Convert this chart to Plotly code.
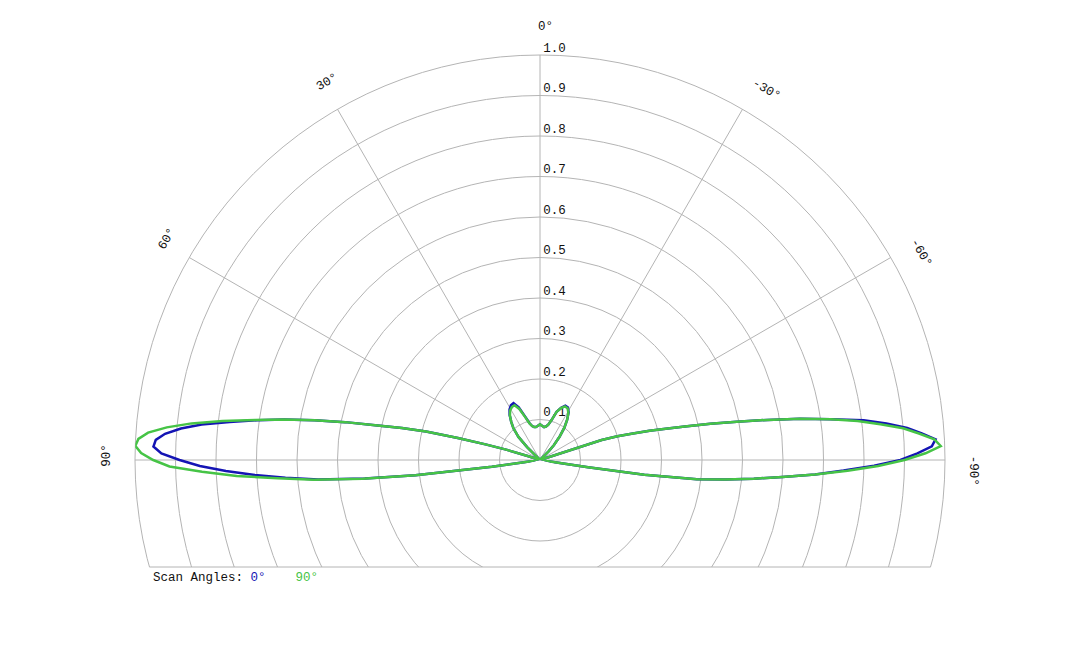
"""Scan-angle radiation pattern, half-polar view cut flat below the horizon."""
import math

import plotly.graph_objects as go

# ---- data (angles in degrees, 0 = up, positive = left) ----
THETA = [
    -100, -99, -98.5, -98, -97, -96, -95, -94, -93, -92, -91, -90, -89, -88,
    -87, -86, -85, -84, -83, -82, -81, -80, -79, -78, -77, -76, -75, -74,
    -73, -72, -71, -60, -46, -45, -43, -40, -37, -34, -31, -28, -25, -22,
    -19, -16, -13, -10, -7, -4, 0, 4, 7, 10, 13, 16, 19, 22, 25, 28, 31,
    34, 37, 40, 43, 45, 46, 60, 71, 72, 73, 74, 75, 76, 77, 78, 79, 80, 81,
    82, 83, 84, 85, 86, 87, 88, 89, 90, 91, 92, 93, 94, 95, 96, 97, 98,
    98.5, 99, 100,
]

R_SCAN_0 = [
    0, 0, 0.12, 0.26, 0.39, 0.46, 0.53, 0.60, 0.68, 0.75, 0.825, 0.89,
    0.932, 0.968, 0.978, 0.945, 0.91, 0.86, 0.805, 0.725, 0.65, 0.57, 0.495,
    0.43, 0.367, 0.32, 0.28, 0.235, 0.20, 0.16, 0, 0, 0, 0.03, 0.05, 0.075,
    0.10, 0.12, 0.137, 0.147, 0.148, 0.139, 0.126, 0.102, 0.089, 0.084,
    0.082, 0.084, 0.088, 0.084, 0.082, 0.083, 0.086, 0.095, 0.114, 0.140,
    0.155, 0.153, 0.146, 0.134, 0.118, 0.102, 0.078, 0.045, 0, 0, 0, 0.03,
    0.09, 0.14, 0.21, 0.29, 0.35, 0.41, 0.49, 0.565, 0.64, 0.705, 0.772,
    0.84, 0.89, 0.928, 0.95, 0.955, 0.935, 0.89, 0.84, 0.776, 0.705, 0.63,
    0.55, 0.435, 0.31, 0.12, 0, 0, 0,
]

R_SCAN_90 = [
    0, 0, 0.12, 0.26, 0.39, 0.46, 0.53, 0.60, 0.68, 0.76, 0.835, 0.90,
    0.952, 0.99, 0.975, 0.938, 0.90, 0.845, 0.79, 0.725, 0.65, 0.57, 0.495,
    0.43, 0.367, 0.32, 0.28, 0.235, 0.20, 0.16, 0, 0, 0, 0.03, 0.05, 0.075,
    0.10, 0.12, 0.136, 0.145, 0.146, 0.138, 0.126, 0.102, 0.089, 0.084,
    0.082, 0.084, 0.088, 0.084, 0.082, 0.083, 0.086, 0.094, 0.112, 0.136,
    0.149, 0.148, 0.143, 0.133, 0.118, 0.102, 0.078, 0.045, 0, 0, 0, 0.03,
    0.09, 0.14, 0.21, 0.29, 0.35, 0.41, 0.49, 0.565, 0.64, 0.71, 0.79,
    0.865, 0.925, 0.97, 0.993, 1.0, 0.985, 0.955, 0.915, 0.835, 0.75, 0.65,
    0.56, 0.44, 0.31, 0.12, 0, 0, 0,
]

SCAN_NAMES = ["0°", "90°"]
SCAN_COLORS = ["#1414b4", "#46c446"]

ANGLE_TICKS = [90, 60, 30, 0, -30, -60, -90]
ANGLE_TICK_TEXT = ["90°", "60°", "30°", "0°", "-30°", "-60°", "-90°"]
RADIAL_TICKS = [0.1, 0.2, 0.3, 0.4, 0.5, 0.6, 0.7, 0.8, 0.9, 1.0]
RADIAL_TICK_TEXT = ["0.1", "0.2", "0.3", "0.4", "0.5", "0.6", "0.7", "0.8", "0.9", "1.0"]

# ---- look / geometry (figure pixels, page body adds an 8px margin) ----
FONT = "Liberation Mono, Courier New, monospace"
FONT_SIZE = 12.5
GRID = "#b4b4b4"
TEXT = "#111111"
W, H = 1080, 648
CX, CY, R = 532, 452, 405   # polar centre and radius
CUT = 0.2642                # view is cut flat this many radii below the centre
PAD = 0.012                 # overlay slack so the outer circle is not clipped
LABEL_DX = 0.008            # radial labels sit just right of the 0° spoke

cut_deg = math.degrees(math.asin(CUT))


def px_x(px: float) -> float:
    return px / W


def px_y(py: float) -> float:
    return 1 - py / H


POLAR_X = [px_x(CX - R), px_x(CX + R)]
POLAR_Y = [px_y(CY + CUT * R), px_y(CY - R)]
OVER_X = [px_x(CX - R * (1 + PAD)), px_x(CX + R * (1 + PAD))]
OVER_Y = [px_y(CY + CUT * R), px_y(CY - R * (1 + PAD))]


def main() -> None:
    fig = go.Figure()

    # hidden cartesian overlay on the same scale as the polar radius:
    # carries the radial tick labels and the flat-cut grid circles
    fig.add_trace(
        go.Scatter(
            x=[LABEL_DX] * len(RADIAL_TICKS),
            y=RADIAL_TICKS,
            text=RADIAL_TICK_TEXT,
            mode="text",
            textposition="top right",
            textfont={"family": FONT, "size": FONT_SIZE, "color": TEXT},
            cliponaxis=False,
            hoverinfo="skip",
            showlegend=False,
        )
    )

    for name, r, color in zip(SCAN_NAMES, (R_SCAN_0, R_SCAN_90), SCAN_COLORS):
        fig.add_trace(
            go.Scatterpolar(
                theta=THETA,
                r=r,
                mode="lines",
                name=name,
                line={"color": color, "width": 2.5},
                showlegend=False,
            )
        )

    shapes = []
    for rv in RADIAL_TICKS:
        shapes.append(
            dict(type="circle", xref="x", yref="y", x0=-rv, x1=rv, y0=-rv, y1=rv,
                 line={"color": GRID, "width": 1}, layer="below")
        )
    half = math.cos(math.asin(CUT)) * R
    shapes.append(
        dict(type="line", xref="paper", yref="paper",
             x0=px_x(CX - half), x1=px_x(CX + half),
             y0=POLAR_Y[0], y1=POLAR_Y[0],
             line={"color": GRID, "width": 1}, layer="below")
    )

    annotations = []
    r_lab = 1.07
    for t, txt in zip(ANGLE_TICKS, ANGLE_TICK_TEXT):
        a = math.radians(t)
        shift = 11 if t < 0 else 5   # nudge along the reading direction
        px = CX - r_lab * R * math.sin(a) + shift * math.cos(a)
        py = CY - r_lab * R * math.cos(a) - shift * math.sin(a)
        annotations.append(
            dict(
                x=px_x(px), y=px_y(py), xref="paper", yref="paper",
                text=txt, textangle=-t, showarrow=False,
                xanchor="center", yanchor="middle",
                font={"family": FONT, "size": FONT_SIZE, "color": TEXT},
            )
        )
    legend_txt = (
        "Scan Angles:\u00a0"
        + f"<span style='color:{SCAN_COLORS[0]}'>{SCAN_NAMES[0]}</span>\u00a0\u00a0\u00a0\u00a0"
        + f"<span style='color:{SCAN_COLORS[1]}'>{SCAN_NAMES[1]}</span>"
    )
    annotations.append(
        dict(x=px_x(143), y=px_y(570), xref="paper", yref="paper", text=legend_txt,
             showarrow=False, xanchor="left", yanchor="middle",
             font={"family": FONT, "size": FONT_SIZE, "color": TEXT})
    )

    fig.update_layout(
        width=W,
        height=H,
        margin={"l": 0, "r": 0, "t": 0, "b": 0},
        paper_bgcolor="white",
        plot_bgcolor="white",
        showlegend=False,
        xaxis={"domain": OVER_X, "range": [-(1 + PAD), 1 + PAD],
               "visible": False, "fixedrange": True},
        yaxis={"domain": OVER_Y, "range": [-CUT, 1 + PAD],
               "visible": False, "fixedrange": True},
        polar={
            "domain": {"x": POLAR_X, "y": POLAR_Y},
            "sector": [-cut_deg, 180 + cut_deg],
            "bgcolor": "rgba(0,0,0,0)",
            "angularaxis": {
                "rotation": 90,
                "direction": "counterclockwise",
                "tickmode": "array",
                "tickvals": ANGLE_TICKS,
                "showticklabels": False,
                "ticks": "",
                "showline": False,
                "showgrid": True,
                "gridcolor": GRID,
                "gridwidth": 1,
            },
            "radialaxis": {
                "range": [0, 1],
                "showgrid": False,
                "showline": False,
                "showticklabels": False,
                "ticks": "",
            },
        },
        shapes=shapes,
        annotations=annotations,
    )

    fig.write_html("out.html")


if __name__ == "__main__":
    main()
